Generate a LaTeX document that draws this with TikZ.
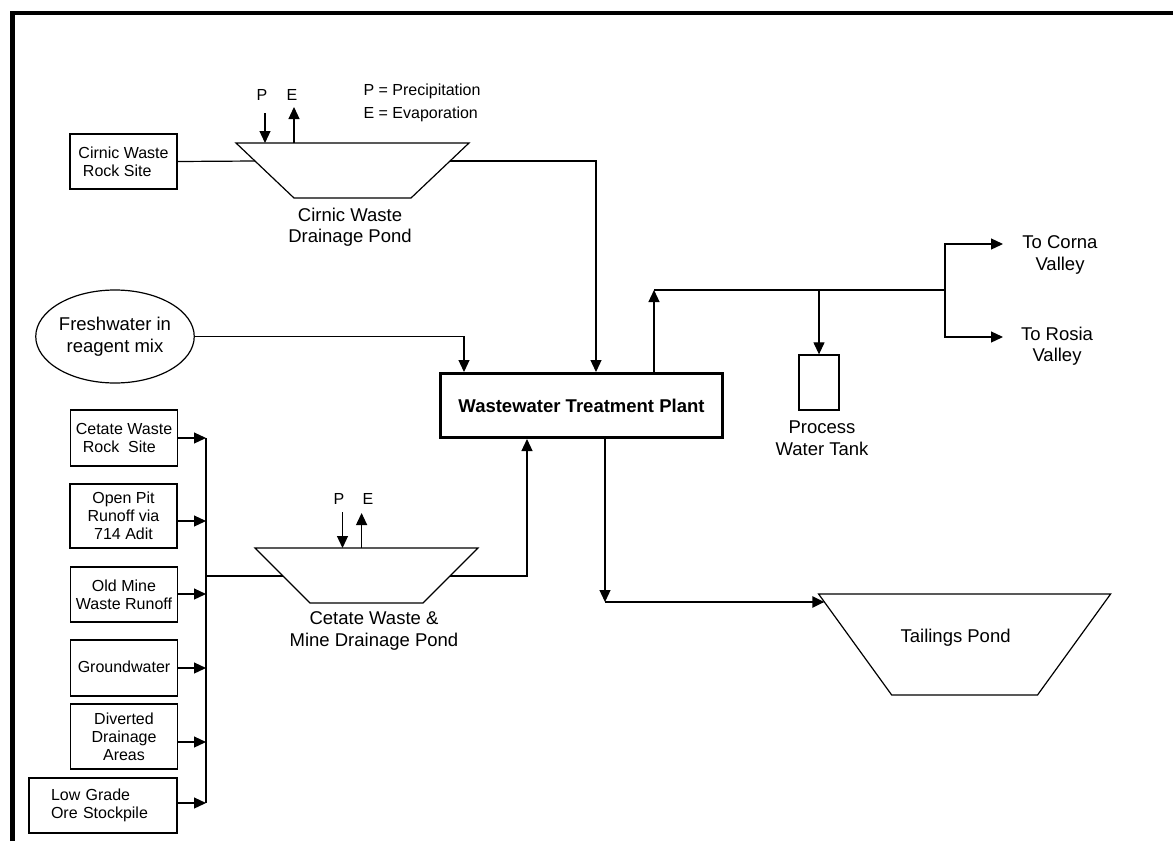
\documentclass[tikz,border=0pt]{standalone}
\usepackage{fontspec}
\setmainfont{Liberation Sans}
\usetikzlibrary{arrows.meta,shapes.geometric}

\begin{document}
\begin{tikzpicture}[x=1pt,y=-1pt,
  line width=1.2pt,
  arr/.style={-{Triangle[length=12pt,width=11pt]}},
  srcbox/.style={draw,line width=1.3pt,minimum width=107pt,inner sep=0pt,
    align=center,font=\fontsize{16}{18}\selectfont},
  bigtext/.style={inner sep=0pt,align=center,font=\fontsize{18.5}{21.5}\selectfont},
  pelabel/.style={inner sep=0pt,font=\fontsize{16}{18}\selectfont},
  pond/.style={line width=1.2pt,line join=miter},
]
\useasboundingbox (0,0) rectangle (1173,841);
\fill[white] (0,0) rectangle (1173,841);

% frame (top and left edges only)
\draw[line width=4.5pt,line join=miter] (12.5,841) -- (12.5,13) -- (1173,13);

% ---------- Cirnic branch ----------
\node[srcbox,minimum height=55pt,align=left] (cirnicsrc) at (123.5,161.5)
  {Cirnic Waste\\\hspace*{4.5pt}Rock Site};
\draw[pond] (236,143) -- (469,143) -- (411,198) -- (294,198) -- cycle;
\coordinate (cirnicL) at (255,161);
\coordinate (cirnicR) at (450,161);
\node[bigtext] (cirniccap) at (350,227) {Cirnic Waste\\Drainage Pond};

\node[pelabel] (cP) at (262,95) {P};
\node[pelabel] (cE) at (292,95) {E};
\coordinate (cPtop) at (265,113);
\coordinate (cPbot) at (265,143);
\coordinate (cEbot) at (294,143);
\coordinate (cEtop) at (294,107);
\draw[arr] (cPtop) -- (cPbot);
\draw[arr] (cEbot) -- (cEtop);

\node[pelabel,anchor=west] (legP) at (363,91) {P = Precipitation};
\node[pelabel,anchor=west] (legE) at (363,114) {E = Evaporation};

% ---------- Treatment plant ----------
\node[draw,line width=3pt,minimum width=282pt,minimum height=64pt,inner sep=0pt,
  font=\bfseries\fontsize{18.5}{21}\selectfont] (wtp) at (581.5,405.5)
  {Wastewater Treatment Plant};

\node[draw,ellipse,minimum width=148pt,minimum height=93pt,inner sep=0pt,bigtext]
  (fresh) at (115,336.5) {Freshwater in\\reagent mix};

\coordinate (in1) at (464,0);
\coordinate (in2) at (596,0);
\coordinate (in3) at (527,0);
\coordinate (outup) at (654,0);
\coordinate (outdown) at (605,0);

\draw (cirnicsrc.east) -- (cirnicL);
\draw[arr] (cirnicR) -| (in2 |- wtp.north);
\draw[arr] (fresh.east) -| (in1 |- wtp.north);

% ---------- Cetate sources ----------
\node[srcbox,minimum height=56pt,align=left] (cetrock) at (124,438)
  {Cetate Waste\\\hspace*{7pt}Rock\ \ Site};
\node[srcbox,minimum height=64pt] (openpit) at (123.5,516)
  {Open Pit\\Runoff via\\714 Adit};
\node[srcbox,minimum height=55pt] (oldmine) at (124,594.5)
  {Old Mine\\Waste Runoff};
\node[srcbox,minimum height=56pt] (ground) at (124,668)
  {\raisebox{3pt}{Groundwater}};
\node[srcbox,minimum height=65pt] (diverted) at (124,736.5)
  {Diverted\\Drainage\\Areas};
\node[srcbox,minimum width=148pt,minimum height=55pt,text width=104pt,align=left]
  (lowgrade) at (103,805.5) {Low Grade\\Ore Stockpile};

\coordinate (b1) at (206,438);
\coordinate (b2) at (206,521);
\coordinate (b3) at (206,594);
\coordinate (b4) at (206,668);
\coordinate (b5) at (206,742);
\coordinate (b6) at (206,803);
\coordinate (bj) at (206,576);

\draw (b1) -- (b6);
\draw[arr] (cetrock.east |- b1) -- (b1);
\draw[arr] (openpit.east |- b2) -- (b2);
\draw[arr] (oldmine.east |- b3) -- (b3);
\draw[arr] (ground.east |- b4) -- (b4);
\draw[arr] (diverted.east |- b5) -- (b5);
\draw[arr] (lowgrade.east |- b6) -- (b6);

% ---------- Cetate pond ----------
\draw[pond] (255,548) -- (478,548) -- (423,603) -- (310,603) -- cycle;
\coordinate (cetL) at (283,576);
\coordinate (cetR) at (450,576);
\node[bigtext] (cetcap) at (374,631) {Cetate Waste \&\\Mine Drainage Pond};

\node[pelabel] (tP) at (339,499) {P};
\node[pelabel] (tE) at (368,499) {E};
\coordinate (tPtop) at (342.5,512);
\coordinate (tPbot) at (342.5,548);
\coordinate (tEbot) at (361.6,548);
\coordinate (tEtop) at (361.6,513);
\draw[arr] (tPtop) -- (tPbot);
\draw[arr] (tEbot) -- (tEtop);

\draw (bj) -- (cetL);
\draw[arr] (cetR) -| (in3 |- wtp.south);

% ---------- Outflows ----------
\coordinate (junc) at (654,290);
\coordinate (tanktap) at (819,290);
\coordinate (split) at (945,290);
\coordinate (cornaT) at (1003,244);
\coordinate (rosiaT) at (1003,337);

\node[draw,line width=1.3pt,minimum width=40pt,minimum height=55pt,inner sep=0pt]
  (tank) at (819,382.5) {};
\node[bigtext] (tankcap) at (822,438) {Process\\Water Tank};

\draw[arr] (outup |- wtp.north) -- (junc);
\draw (junc) -- (split);
\draw[arr] (tanktap) -- (tank.north);
\draw[arr] (split) |- (cornaT);
\draw[arr] (split) |- (rosiaT);

\node[bigtext] (corna) at (1060,255) {To Corna\\Valley};
\node[bigtext] (rosia) at (1057,346) {To Rosia\\Valley};

% ---------- Tailings ----------
\draw[pond] (818.6,594) -- (1110.6,594) -- (1037.5,695) -- (891.7,695) -- cycle;
\coordinate (tailL) at (824.4,602);
\coordinate (bend) at (605,602);
\node[bigtext] (tailcap) at (955.6,638) {Tailings Pond};

\draw[arr] (outdown |- wtp.south) -- (bend);
\draw[arr,line width=2.2pt] (bend) -- (tailL);

\end{tikzpicture}
\end{document}
